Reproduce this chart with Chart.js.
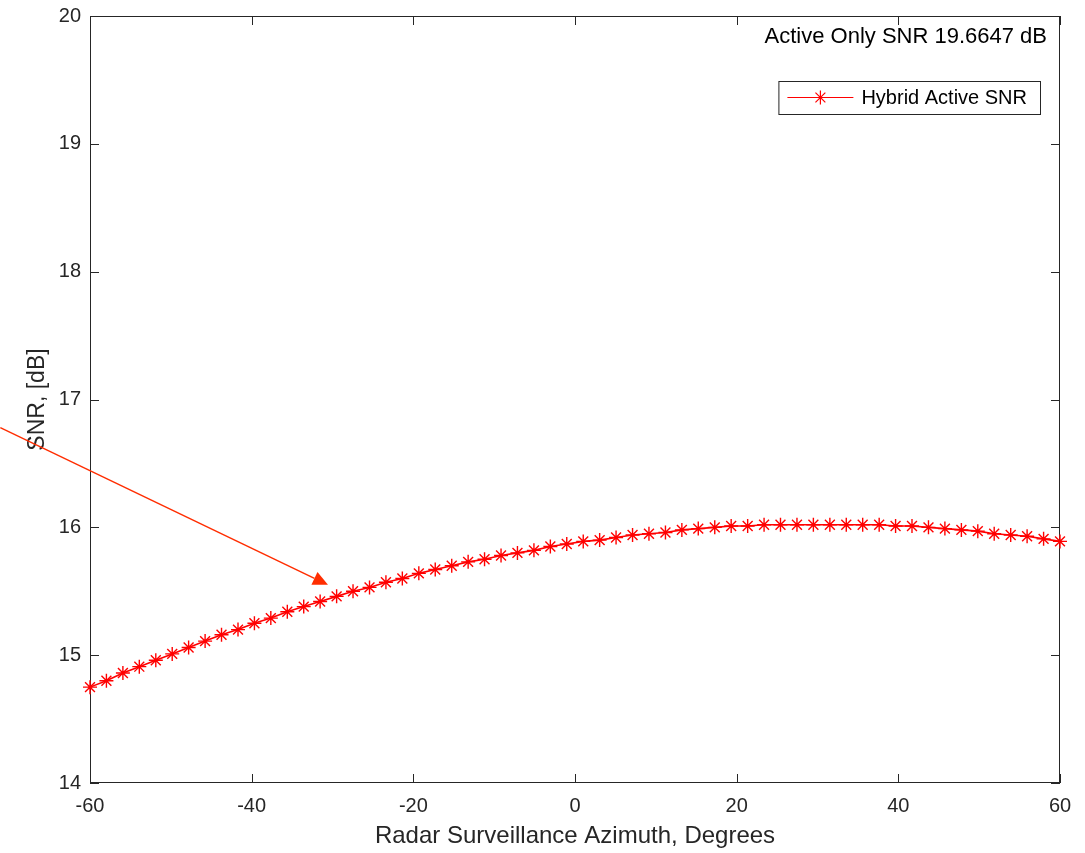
<!DOCTYPE html>
<html lang="en">
<head>
<meta charset="UTF-8" />
<title>Hybrid Active SNR vs Azimuth</title>
<script src="https://cdn.jsdelivr.net/npm/chart.js"></script>
<style>
  html, body { margin: 0; padding: 0; background: #ffffff; }
  #wrap { width: 1085px; height: 853px; }
</style>
</head>
<body>
<div id="wrap"><canvas id="snrChart" width="1085" height="853"></canvas></div>
<script>
  // azimuth samples in degrees (60 samples from -60 to 60)
  const azimuthDeg = [
    -60.00, -57.97, -55.93, -53.90, -51.86, -49.83, -47.80, -45.76, -43.73, -41.69,
    -39.66, -37.63, -35.59, -33.56, -31.53, -29.49, -27.46, -25.42, -23.39, -21.36,
    -19.32, -17.29, -15.25, -13.22, -11.19, -9.15, -7.12, -5.08, -3.05, -1.02,
    1.02, 3.05, 5.08, 7.12, 9.15, 11.19, 13.22, 15.25, 17.29, 19.32,
    21.36, 23.39, 25.42, 27.46, 29.49, 31.53, 33.56, 35.59, 37.63, 39.66,
    41.69, 43.73, 45.76, 47.80, 49.83, 51.86, 53.90, 55.93, 57.97, 60.00
  ];
  // hybrid active SNR in dB
  const hybridSnr = [
    14.75, 14.80, 14.86, 14.91, 14.96, 15.01, 15.06, 15.11, 15.16, 15.20,
    15.25, 15.29, 15.34, 15.38, 15.42, 15.46, 15.50, 15.53, 15.57, 15.60,
    15.64, 15.67, 15.70, 15.73, 15.75, 15.78, 15.80, 15.82, 15.85, 15.87,
    15.89, 15.90, 15.92, 15.94, 15.95, 15.96, 15.98, 15.99, 16.00, 16.01,
    16.01, 16.02, 16.02, 16.02, 16.02, 16.02, 16.02, 16.02, 16.02, 16.01,
    16.01, 16.00, 15.99, 15.98, 15.97, 15.95, 15.94, 15.93, 15.91, 15.89
  ];
  const xTicks = [-60, -40, -20, 0, 20, 40, 60];
  const yTicks = [14, 15, 16, 17, 18, 19, 20];
  const seriesLabel = 'Hybrid Active SNR';
  const activeOnlyText = 'Active Only SNR 19.6647 dB';
  // arrow annotation, in data units [azimuth, snr]
  const arrowFrom = [-71.1, 16.78];
  const arrowTo = [-30.56, 15.55];

  const FONT = '"Liberation Sans", Arial, sans-serif';
  const INK = '#262626';
  const RED = 'rgb(255, 0, 0)';

  const axesBox = {
    id: 'axesBox',
    beforeDatasetsDraw(chart) {
      const { ctx, chartArea: a, scales: { x, y } } = chart;
      ctx.save();
      ctx.strokeStyle = INK;
      ctx.lineWidth = 1;
      ctx.strokeRect(a.left + 0.5, a.top + 0.5, a.right - a.left - 1, a.bottom - a.top - 1);
      const tl = 9;
      ctx.beginPath();
      xTicks.forEach(v => {
        const px = Math.round(x.getPixelForValue(v)) + 0.5;
        ctx.moveTo(px, a.bottom); ctx.lineTo(px, a.bottom - tl);
        ctx.moveTo(px, a.top); ctx.lineTo(px, a.top + tl);
      });
      yTicks.forEach(v => {
        const py = Math.round(y.getPixelForValue(v)) + 0.5;
        ctx.moveTo(a.left, py); ctx.lineTo(a.left + tl, py);
        ctx.moveTo(a.right, py); ctx.lineTo(a.right - tl, py);
      });
      ctx.stroke();
      ctx.restore();
    },
    afterDraw(chart) {
      const { ctx, chartArea: a, scales: { x, y } } = chart;
      ctx.save();

      // top-right text
      ctx.fillStyle = '#000000';
      ctx.font = '22px ' + FONT;
      ctx.textAlign = 'right';
      ctx.textBaseline = 'middle';
      ctx.fillText(activeOnlyText, a.right - 13, a.top + 21);

      // legend
      ctx.font = '20px ' + FONT;
      const tw = ctx.measureText(seriesLabel).width;
      const bw = 83 + tw + 13, bh = 33;
      const bx = a.right - 20 - bw, by = a.top + 65;
      ctx.fillStyle = '#ffffff';
      ctx.fillRect(bx, by, bw, bh);
      ctx.strokeStyle = INK;
      ctx.lineWidth = 1;
      ctx.strokeRect(bx + 0.5, by + 0.5, bw, bh);
      const my = by + bh / 2;
      ctx.strokeStyle = RED;
      ctx.lineWidth = 1;
      ctx.beginPath();
      ctx.moveTo(bx + 9, my); ctx.lineTo(bx + 75, my);
      ctx.stroke();
      ctx.lineWidth = 1.2;
      ctx.beginPath();
      for (let k = 0; k < 4; k++) {
        const t = k * Math.PI / 4;
        ctx.moveTo(bx + 42 - 7 * Math.cos(t), my - 7 * Math.sin(t));
        ctx.lineTo(bx + 42 + 7 * Math.cos(t), my + 7 * Math.sin(t));
      }
      ctx.stroke();
      ctx.fillStyle = '#000000';
      ctx.textAlign = 'left';
      ctx.fillText(seriesLabel, bx + 83, my + 1);

      // arrow
      const x0 = x.getPixelForValue(arrowFrom[0]), y0 = y.getPixelForValue(arrowFrom[1]);
      const x1 = x.getPixelForValue(arrowTo[0]), y1 = y.getPixelForValue(arrowTo[1]);
      const ang = Math.atan2(y1 - y0, x1 - x0);
      const hl = 15, hw = 7;
      const bxp = x1 - hl * Math.cos(ang), byp = y1 - hl * Math.sin(ang);
      ctx.strokeStyle = '#ff2d00';
      ctx.fillStyle = '#ff2d00';
      ctx.lineWidth = 1.5;
      ctx.beginPath();
      ctx.moveTo(x0, y0); ctx.lineTo(bxp, byp);
      ctx.stroke();
      ctx.beginPath();
      ctx.moveTo(x1, y1);
      ctx.lineTo(bxp + hw * Math.sin(ang), byp - hw * Math.cos(ang));
      ctx.lineTo(bxp - hw * Math.sin(ang), byp + hw * Math.cos(ang));
      ctx.closePath();
      ctx.fill();

      ctx.restore();
    }
  };

  const points = azimuthDeg.map((az, i) => ({ x: az, y: hybridSnr[i] }));

  new Chart(document.getElementById('snrChart'), {
    type: 'line',
    data: {
      datasets: [{
        label: seriesLabel,
        data: points,
        borderColor: RED,
        backgroundColor: RED,
        borderWidth: 1.6,
        pointStyle: 'star',
        pointRadius: 7,
        pointBorderWidth: 1.4,
        pointBorderColor: RED,
        pointBackgroundColor: RED,
        tension: 0,
        clip: false
      }]
    },
    options: {
      responsive: false,
      animation: false,
      layout: { padding: { top: 16, right: 25, left: 0, bottom: 0 } },
      plugins: { legend: { display: false }, tooltip: { enabled: false } },
      scales: {
        x: {
          type: 'linear',
          min: -60, max: 60,
          afterBuildTicks: s => { s.ticks = xTicks.map(v => ({ value: v })); },
          afterFit: s => { s.height = 70; s.paddingLeft = 0; s.paddingRight = 0; },
          grid: { display: false, drawTicks: false },
          border: { display: false },
          ticks: { color: INK, font: { size: 20, family: FONT }, padding: 11, maxRotation: 0 },
          title: {
            display: true,
            text: 'Radar Surveillance Azimuth, Degrees',
            color: INK,
            font: { size: 24, family: FONT, lineHeight: 1 },
            padding: { top: 0, bottom: 5 }
          }
        },
        y: {
          min: 14, max: 20,
          afterBuildTicks: s => { s.ticks = yTicks.map(v => ({ value: v })); },
          afterFit: s => { s.width = 90; s.paddingTop = 0; s.paddingBottom = 0; },
          grid: { display: false, drawTicks: false },
          border: { display: false },
          ticks: { color: INK, font: { size: 20, family: FONT }, padding: 9 },
          title: {
            display: true,
            text: 'SNR, [dB]',
            color: INK,
            font: { size: 23, family: FONT, lineHeight: 1 },
            padding: { top: 26, bottom: 0 }
          }
        }
      }
    },
    plugins: [axesBox]
  });
</script>
</body>
</html>
